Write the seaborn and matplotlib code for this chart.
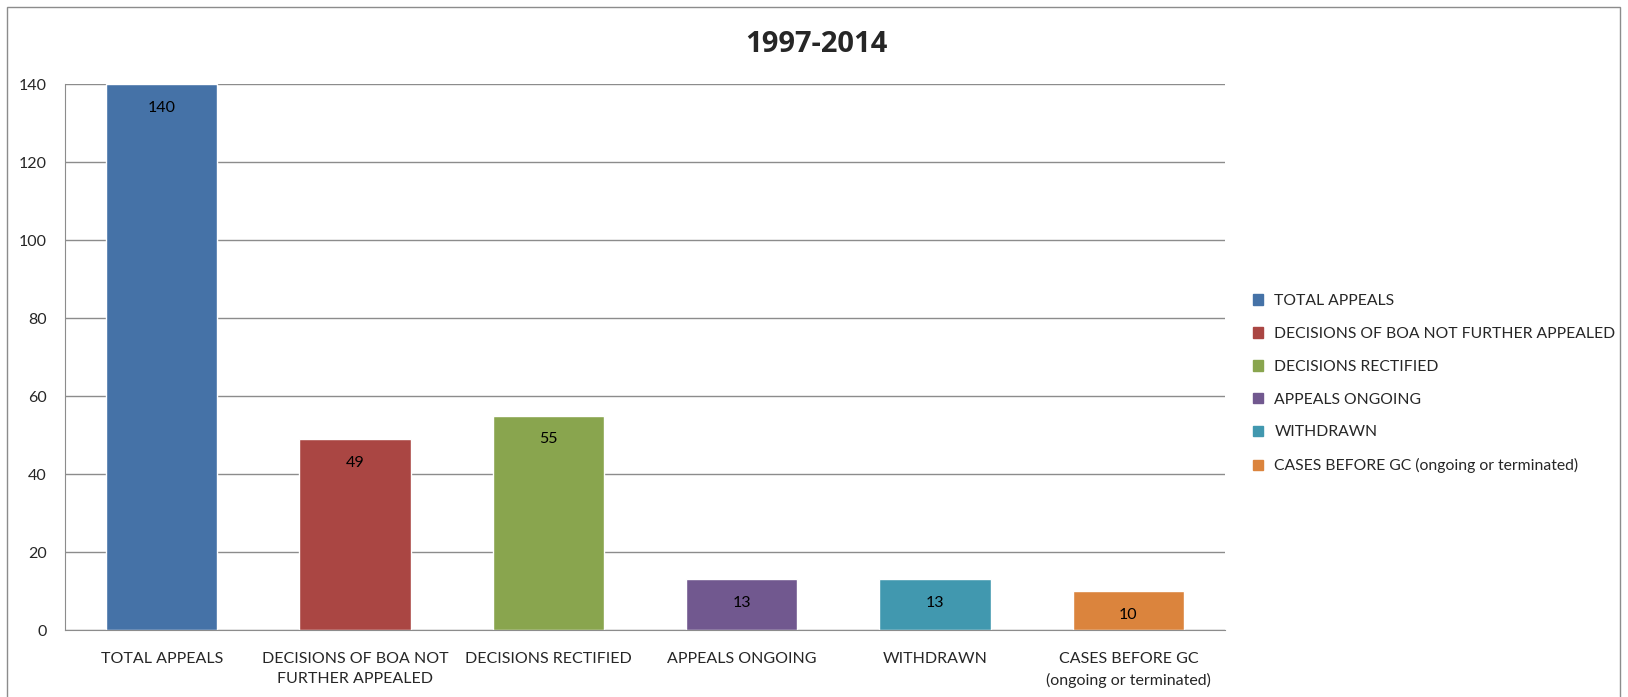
import matplotlib
matplotlib.use("Agg")
import pandas as pd
import matplotlib.pyplot as plt
import seaborn as sns
from matplotlib.patches import Rectangle

# chart data
categories = ["TOTAL APPEALS", "DECISIONS OF BOA NOT FURTHER APPEALED",
              "DECISIONS RECTIFIED", "APPEALS ONGOING", "WITHDRAWN",
              "CASES BEFORE GC (ongoing or terminated)"]
tick_labels = ["TOTAL APPEALS", "DECISIONS OF BOA NOT\nFURTHER APPEALED",
               "DECISIONS RECTIFIED", "APPEALS ONGOING", "WITHDRAWN",
               "CASES BEFORE GC\n(ongoing or terminated)"]
counts = [140, 49, 55, 13, 13, 10]
colors = ["#4572A7", "#AA4643", "#89A54E", "#71588F", "#4198AF", "#DB843D"]

df = pd.DataFrame({"category": categories, "count": counts})

sns.set_style("white")
plt.rcParams['font.family'] = ['Lato', 'DejaVu Sans']

fig = plt.figure(figsize=(16.28, 6.97), dpi=100)
ax = fig.add_axes([65 / 1628, 1 - 630 / 697, 1160 / 1628, 546 / 697])

sns.barplot(data=df, x="category", y="count", hue="category",
            palette=colors, width=0.575, saturation=1, legend=False, ax=ax)

ax.set_ylim(0, 140)
ax.set_yticks(range(0, 141, 20))
ax.set_xlim(-0.5, len(categories) - 0.5)
ax.grid(axis="y", color="#8c8c8c", linewidth=1)
ax.set_axisbelow(True)
for s in ["top", "right"]:
    ax.spines[s].set_visible(False)
ax.spines["left"].set_color("#8c8c8c")
ax.spines["bottom"].set_color("#8c8c8c")
ax.set_xticks(range(len(categories)))
ax.set_xticklabels(tick_labels, fontsize=11.5, linespacing=1.55)
ax.tick_params(axis="x", length=0, pad=16)
ax.tick_params(axis="y", length=0, pad=13, labelsize=11.5)
ax.set_xlabel("")
ax.set_ylabel("")

# value labels inside the bars
for i, v in enumerate(counts):
    ax.annotate(str(v), (i, v), xytext=(0, -17), textcoords="offset points",
                ha="center", va="center", fontsize=11.5, color="black")

# title
fig.text(816 / 1628, 1 - 44 / 697, "1997-2014", ha="center", va="center",
         fontsize=21, fontweight="bold", family=["Open Sans", "DejaVu Sans"])

# legend
handles = [Rectangle((0, 0), 1, 1, color=c) for c in colors]
fig.legend(handles, categories, loc="upper left",
           bbox_to_anchor=(1239 / 1628, 1 - 280 / 697), frameon=False,
           fontsize=11.3, handlelength=0.65, handleheight=0.65,
           handletextpad=0.7, labelspacing=1.2)

# chart border
fig.add_artist(Rectangle((7 / 1628, -0.05), 1613 / 1628, 1 - 7 / 697 + 0.05,
                         transform=fig.transFigure, fill=False,
                         edgecolor="#8c8c8c", linewidth=1))

plt.savefig("out.png", dpi=100)
